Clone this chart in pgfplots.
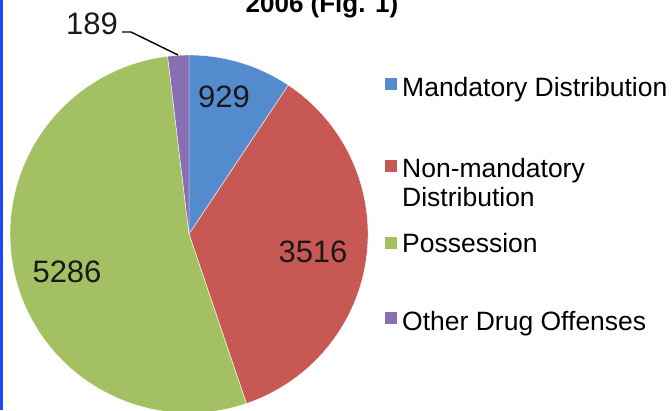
\documentclass[border=0pt]{standalone}
\usepackage{pgfplots}
\usepackage{pgfplotstable}
\pgfplotsset{compat=1.18}
\usepackage{fontspec}
\setmainfont{Liberation Sans}
\definecolor{cA}{RGB}{84,139,207}
\definecolor{cB}{RGB}{200,88,84}
\definecolor{cC}{RGB}{163,193,98}
\definecolor{cD}{RGB}{136,110,178}
\definecolor{frameblue}{RGB}{30,70,250}
\pgfplotstableread{
cat value
Mandatory 929
NonMandatory 3516
Possession 5286
Other 189
}\piedata
\begin{document}
\begin{tikzpicture}
\pgfplotstablegetelem{0}{value}\of\piedata\pgfmathsetmacro{\va}{\pgfplotsretval}
\pgfplotstablegetelem{1}{value}\of\piedata\pgfmathsetmacro{\vb}{\pgfplotsretval}
\pgfplotstablegetelem{2}{value}\of\piedata\pgfmathsetmacro{\vc}{\pgfplotsretval}
\pgfplotstablegetelem{3}{value}\of\piedata\pgfmathsetmacro{\vd}{\pgfplotsretval}
\pgfmathsetmacro{\tot}{\va+\vb+\vc+\vd}
\pgfmathsetmacro{\aA}{90-360*(\va/\tot)}
\pgfmathsetmacro{\aB}{\aA-360*(\vb/\tot)}
\pgfmathsetmacro{\aC}{\aB-360*(\vc/\tot)}
\path[use as bounding box] (0,0) rectangle (672pt,410pt);
\begin{axis}[x=1pt,y=1pt,xmin=0,xmax=672,ymin=0,ymax=410,hide axis,clip=false,
  anchor=south west,at={(0,0)}]
% pie slices
\fill[cA,draw=white,line width=0.4pt] (axis cs:189,176) -- ++(90:179pt) arc[start angle=90,end angle=\aA,radius=179pt] -- cycle;
\fill[cB,draw=white,line width=0.4pt] (axis cs:189,176) -- ++(\aA:179pt) arc[start angle=\aA,end angle=\aB,radius=179pt] -- cycle;
\fill[cC,draw=white,line width=0.4pt] (axis cs:189,176) -- ++(\aB:179pt) arc[start angle=\aB,end angle=\aC,radius=179pt] -- cycle;
\fill[cD,draw=white,line width=0.4pt] (axis cs:189,176) -- ++(\aC:179pt) arc[start angle=\aC,end angle=-270,radius=179pt] -- cycle;
% data labels
\node[font=\fontsize{31}{36}\selectfont,text=black!90] at (axis cs:224,313) {929};
\node[font=\fontsize{31}{36}\selectfont,text=black!90] at (axis cs:313,158) {3516};
\node[font=\fontsize{31}{36}\selectfont,text=black!90] at (axis cs:67,138) {5286};
\node[font=\fontsize{31}{36}\selectfont,text=black!90] at (axis cs:92,386) {189};
\draw[black,line width=1.4pt] (axis cs:122,378) -- (axis cs:131,378) -- (axis cs:178,355);
% title (bottom line visible)
\node[font=\bfseries\fontsize{26}{30}\selectfont,anchor=base] at (axis cs:322,397) {2006 (Fig. 1)};
% legend
\fill[cA] (axis cs:385,320) rectangle (axis cs:397,332);
\node[font=\fontsize{26.5}{30}\selectfont,anchor=base west,inner sep=0pt] at (axis cs:402,313) {Mandatory Distribution};
\fill[cB] (axis cs:385,238) rectangle (axis cs:397,250);
\node[font=\fontsize{26.5}{30}\selectfont,anchor=base west,inner sep=0pt] at (axis cs:402,232) {Non-mandatory};
\node[font=\fontsize{26.5}{30}\selectfont,anchor=base west,inner sep=0pt] at (axis cs:402,203) {Distribution};
\fill[cC] (axis cs:385,161) rectangle (axis cs:397,173);
\node[font=\fontsize{26.5}{30}\selectfont,anchor=base west,inner sep=0pt] at (axis cs:402,157) {Possession};
\fill[cD] (axis cs:385,86) rectangle (axis cs:397,98);
\node[font=\fontsize{26.5}{30}\selectfont,anchor=base west,inner sep=0pt] at (axis cs:402,80) {Other Drug Offenses};
% frame strip at the left edge
\fill[frameblue] (axis cs:0,0) rectangle (axis cs:2.5,410);
\end{axis}
\end{tikzpicture}
\end{document}
